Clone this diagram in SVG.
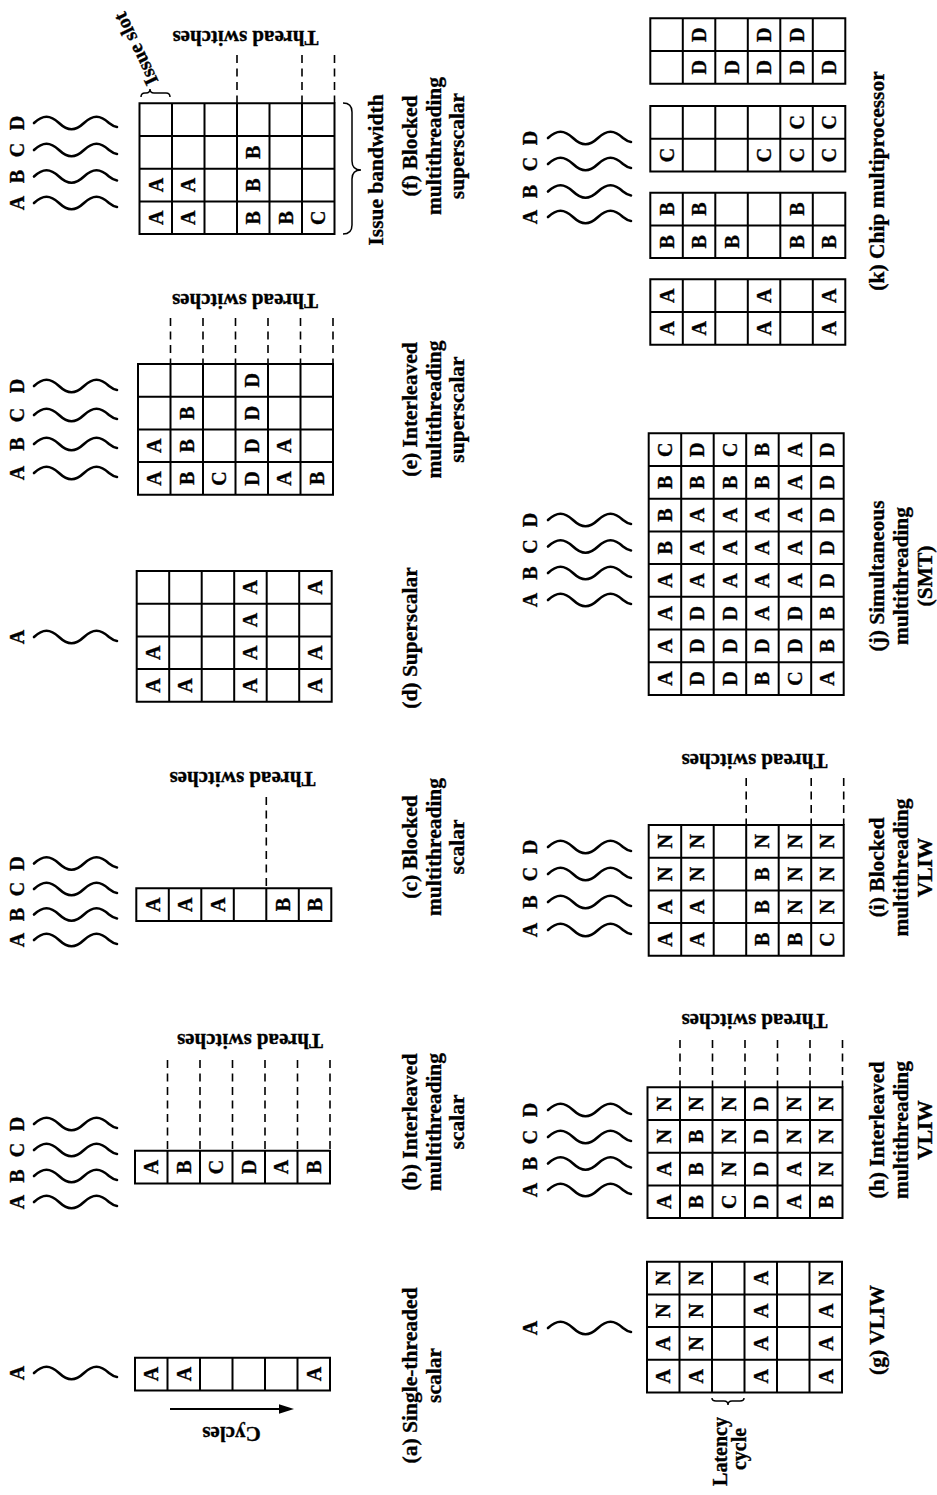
<svg xmlns="http://www.w3.org/2000/svg" xmlns:xlink="http://www.w3.org/1999/xlink" width="937" height="1495" viewBox="0 0 937 1495">
<style>
.t{font-family:"Liberation Serif","Times New Roman",serif;font-weight:bold;fill:#000;stroke:#000;stroke-width:0.35}
.c{font-size:20px;text-anchor:middle;dominant-baseline:central}
.cap{font-size:21.5px;text-anchor:middle}
.lbl{font-size:21px;text-anchor:middle}
.dash{stroke:#000;stroke-width:1.6;stroke-dasharray:8 5.5;fill:none}
.br{fill:none;stroke:#000;stroke-width:1.5}
</style>
<defs>
<path id="w" d="M0 0C9 -8.4 16 -8.4 25 0C34 8.4 41 8.4 50 0C59 -8.4 66 -8.4 75 0C78 2.4 80.5 3.6 83 4" fill="none" stroke="#000" stroke-width="2.6" stroke-linecap="round"/>
<path id="g1" d="M0 0H195V32.7H0Z M32.5 0V32.7 M65 0V32.7 M97.5 0V32.7 M130 0V32.7 M162.5 0V32.7" fill="#fff" stroke="#000" stroke-width="2"/>
<path id="g2" d="M0 0H195V65.4H0Z M32.5 0V65.4 M65 0V65.4 M97.5 0V65.4 M130 0V65.4 M162.5 0V65.4 M0 32.7H195" fill="#fff" stroke="#000" stroke-width="2"/>
<path id="g4" d="M0 0H195V130.8H0Z M32.5 0V130.8 M65 0V130.8 M97.5 0V130.8 M130 0V130.8 M162.5 0V130.8 M0 32.7H195 M0 65.4H195 M0 98.1H195" fill="#fff" stroke="#000" stroke-width="2"/>
<path id="g8" d="M0 0H195V261.6H0Z M32.5 0V261.6 M65 0V261.6 M97.5 0V261.6 M130 0V261.6 M162.5 0V261.6 M0 32.7H195 M0 65.4H195 M0 98.1H195 M0 130.8H195 M0 163.5H195 M0 196.2H195 M0 228.9H195" fill="#fff" stroke="#000" stroke-width="2"/>
</defs>
<rect width="937" height="1495" fill="#fff"/>

<!-- (a) -->
<g id="fig-a">
<text class="t c" x="17" y="1373" transform="rotate(-90 17 1373)">A</text>
<use href="#w" x="34" y="1373"/>
<g transform="translate(135,1357.7)">
<use href="#g1"/>
<text class="t c" x="16.25" y="16.35" transform="rotate(-90 16.25 16.35)">A</text>
<text class="t c" x="48.75" y="16.35" transform="rotate(-90 48.75 16.35)">A</text>
<text class="t c" x="178.75" y="16.35" transform="rotate(-90 178.75 16.35)">A</text>
</g>
<text class="t lbl" transform="translate(231.5,1427) rotate(180)">Cycles</text>
<text class="t cap" transform="translate(416.7,1375.5) rotate(-90)">(a) Single-threaded</text>
<text class="t cap" transform="translate(440.5,1375.5) rotate(-90)">scalar</text>
</g>

<!-- (b) -->
<g id="fig-b">
<text class="t c" x="17" y="1202" transform="rotate(-90 17 1202)">A</text>
<text class="t c" x="17" y="1176" transform="rotate(-90 17 1176)">B</text>
<text class="t c" x="17" y="1150" transform="rotate(-90 17 1150)">C</text>
<text class="t c" x="17" y="1124" transform="rotate(-90 17 1124)">D</text>
<use href="#w" x="34" y="1202"/><use href="#w" x="34" y="1176"/><use href="#w" x="34" y="1150"/><use href="#w" x="34" y="1124"/>
<path class="dash" d="M167.5 1060V1150.7 M200 1060V1150.7 M232.5 1060V1150.7 M265 1060V1150.7 M297.5 1060V1150.7 M330 1060V1150.7"/>
<g transform="translate(135,1150.7)">
<use href="#g1"/>
<text class="t c" x="16.25" y="16.35" transform="rotate(-90 16.25 16.35)">A</text>
<text class="t c" x="48.75" y="16.35" transform="rotate(-90 48.75 16.35)">B</text>
<text class="t c" x="81.25" y="16.35" transform="rotate(-90 81.25 16.35)">C</text>
<text class="t c" x="113.75" y="16.35" transform="rotate(-90 113.75 16.35)">D</text>
<text class="t c" x="146.25" y="16.35" transform="rotate(-90 146.25 16.35)">A</text>
<text class="t c" x="178.75" y="16.35" transform="rotate(-90 178.75 16.35)">B</text>
</g>
<text class="t lbl" transform="translate(250,1034) rotate(180)">Thread switches</text>
<text class="t cap" transform="translate(416.7,1122) rotate(-90)">(b) Interleaved</text>
<text class="t cap" transform="translate(440.5,1122) rotate(-90)">multithreading</text>
<text class="t cap" transform="translate(464.3,1122) rotate(-90)">scalar</text>
</g>

<!-- (c) -->
<g id="fig-c">
<text class="t c" x="17" y="940" transform="rotate(-90 17 940)">A</text>
<text class="t c" x="17" y="914.5" transform="rotate(-90 17 914.5)">B</text>
<text class="t c" x="17" y="889" transform="rotate(-90 17 889)">C</text>
<text class="t c" x="17" y="863.5" transform="rotate(-90 17 863.5)">D</text>
<use href="#w" x="34" y="940"/><use href="#w" x="34" y="914.5"/><use href="#w" x="34" y="889"/><use href="#w" x="34" y="863.5"/>
<path class="dash" d="M266.3 797V888.3"/>
<g transform="translate(136.3,888.3)">
<use href="#g1"/>
<text class="t c" x="16.25" y="16.35" transform="rotate(-90 16.25 16.35)">A</text>
<text class="t c" x="48.75" y="16.35" transform="rotate(-90 48.75 16.35)">A</text>
<text class="t c" x="81.25" y="16.35" transform="rotate(-90 81.25 16.35)">A</text>
<text class="t c" x="146.25" y="16.35" transform="rotate(-90 146.25 16.35)">B</text>
<text class="t c" x="178.75" y="16.35" transform="rotate(-90 178.75 16.35)">B</text>
</g>
<text class="t lbl" transform="translate(242.5,772) rotate(180)">Thread switches</text>
<text class="t cap" transform="translate(416.7,847) rotate(-90)">(c) Blocked</text>
<text class="t cap" transform="translate(440.5,847) rotate(-90)">multithreading</text>
<text class="t cap" transform="translate(464.3,847) rotate(-90)">scalar</text>
</g>

<!-- (d) -->
<g id="fig-d">
<text class="t c" x="17" y="637" transform="rotate(-90 17 637)">A</text>
<use href="#w" x="34" y="637"/>
<g transform="translate(136.7,571)">
<use href="#g4"/>
<text class="t c" x="113.75" y="16.35" transform="rotate(-90 113.75 16.35)">A</text>
<text class="t c" x="178.75" y="16.35" transform="rotate(-90 178.75 16.35)">A</text>
<text class="t c" x="113.75" y="49.05" transform="rotate(-90 113.75 49.05)">A</text>
<text class="t c" x="16.25" y="81.75" transform="rotate(-90 16.25 81.75)">A</text>
<text class="t c" x="113.75" y="81.75" transform="rotate(-90 113.75 81.75)">A</text>
<text class="t c" x="178.75" y="81.75" transform="rotate(-90 178.75 81.75)">A</text>
<text class="t c" x="16.25" y="114.45" transform="rotate(-90 16.25 114.45)">A</text>
<text class="t c" x="48.75" y="114.45" transform="rotate(-90 48.75 114.45)">A</text>
<text class="t c" x="113.75" y="114.45" transform="rotate(-90 113.75 114.45)">A</text>
<text class="t c" x="178.75" y="114.45" transform="rotate(-90 178.75 114.45)">A</text>
</g>
<text class="t cap" transform="translate(416.7,638) rotate(-90)">(d) Superscalar</text>
</g>

<!-- (e) -->
<g id="fig-e">
<text class="t c" x="17" y="473" transform="rotate(-90 17 473)">A</text>
<text class="t c" x="17" y="444" transform="rotate(-90 17 444)">B</text>
<text class="t c" x="17" y="415" transform="rotate(-90 17 415)">C</text>
<text class="t c" x="17" y="386" transform="rotate(-90 17 386)">D</text>
<use href="#w" x="34" y="473"/><use href="#w" x="34" y="444"/><use href="#w" x="34" y="415"/><use href="#w" x="34" y="386"/>
<path class="dash" d="M170.5 318V364 M203 318V364 M235.5 318V364 M268 318V364 M300.5 318V364 M333 318V364"/>
<g transform="translate(138,364)">
<use href="#g4"/>
<text class="t c" x="113.75" y="16.35" transform="rotate(-90 113.75 16.35)">D</text>
<text class="t c" x="48.75" y="49.05" transform="rotate(-90 48.75 49.05)">B</text>
<text class="t c" x="113.75" y="49.05" transform="rotate(-90 113.75 49.05)">D</text>
<text class="t c" x="16.25" y="81.75" transform="rotate(-90 16.25 81.75)">A</text>
<text class="t c" x="48.75" y="81.75" transform="rotate(-90 48.75 81.75)">B</text>
<text class="t c" x="113.75" y="81.75" transform="rotate(-90 113.75 81.75)">D</text>
<text class="t c" x="146.25" y="81.75" transform="rotate(-90 146.25 81.75)">A</text>
<text class="t c" x="16.25" y="114.45" transform="rotate(-90 16.25 114.45)">A</text>
<text class="t c" x="48.75" y="114.45" transform="rotate(-90 48.75 114.45)">B</text>
<text class="t c" x="81.25" y="114.45" transform="rotate(-90 81.25 114.45)">C</text>
<text class="t c" x="113.75" y="114.45" transform="rotate(-90 113.75 114.45)">D</text>
<text class="t c" x="146.25" y="114.45" transform="rotate(-90 146.25 114.45)">A</text>
<text class="t c" x="178.75" y="114.45" transform="rotate(-90 178.75 114.45)">B</text>
</g>
<text class="t lbl" transform="translate(245,294) rotate(180)">Thread switches</text>
<text class="t cap" transform="translate(416.7,409.5) rotate(-90)">(e) Interleaved</text>
<text class="t cap" transform="translate(440.5,409.5) rotate(-90)">multithreading</text>
<text class="t cap" transform="translate(464.3,409.5) rotate(-90)">superscalar</text>
</g>

<!-- (f) -->
<g id="fig-f">
<text class="t c" x="17" y="203" transform="rotate(-90 17 203)">A</text>
<text class="t c" x="17" y="176.5" transform="rotate(-90 17 176.5)">B</text>
<text class="t c" x="17" y="150" transform="rotate(-90 17 150)">C</text>
<text class="t c" x="17" y="123" transform="rotate(-90 17 123)">D</text>
<use href="#w" x="34" y="203"/><use href="#w" x="34" y="176.5"/><use href="#w" x="34" y="150"/><use href="#w" x="34" y="123"/>
<path class="dash" d="M237 55V103.3 M302 55V103.3 M334.5 55V103.3"/>
<g transform="translate(139.5,103.3)">
<use href="#g4"/>
<text class="t c" x="113.75" y="49.05" transform="rotate(-90 113.75 49.05)">B</text>
<text class="t c" x="16.25" y="81.75" transform="rotate(-90 16.25 81.75)">A</text>
<text class="t c" x="48.75" y="81.75" transform="rotate(-90 48.75 81.75)">A</text>
<text class="t c" x="113.75" y="81.75" transform="rotate(-90 113.75 81.75)">B</text>
<text class="t c" x="16.25" y="114.45" transform="rotate(-90 16.25 114.45)">A</text>
<text class="t c" x="48.75" y="114.45" transform="rotate(-90 48.75 114.45)">A</text>
<text class="t c" x="113.75" y="114.45" transform="rotate(-90 113.75 114.45)">B</text>
<text class="t c" x="146.25" y="114.45" transform="rotate(-90 146.25 114.45)">B</text>
<text class="t c" x="178.75" y="114.45" transform="rotate(-90 178.75 114.45)">C</text>
</g>
<text class="t lbl" transform="translate(245.5,31) rotate(180)">Thread switches</text>
<path class="br" d="M141 97Q141 93 145 93L146 93Q150 93 150 89Q150 93 154 93L166 93Q170 93 170 97"/>
<text class="t lbl" style="font-size:20px" transform="translate(141.8,46) rotate(-115.6)">Issue slot</text>
<path class="br" d="M343 103Q352 103 352 112L352 161Q352 170 361 170Q352 170 352 179L352 225Q352 234 343 234"/>
<text class="t cap" transform="translate(383.3,170) rotate(-90)">Issue bandwidth</text>
<text class="t cap" transform="translate(416.7,146) rotate(-90)">(f) Blocked</text>
<text class="t cap" transform="translate(440.5,146) rotate(-90)">multithreading</text>
<text class="t cap" transform="translate(464.3,146) rotate(-90)">superscalar</text>
</g>

<!-- (g) -->
<g id="fig-g">
<text class="t c" x="530" y="1328" transform="rotate(-90 530 1328)">A</text>
<use href="#w" x="548" y="1328"/>
<g transform="translate(647,1261.7)">
<use href="#g4"/>
<text class="t c" x="16.25" y="16.35" transform="rotate(-90 16.25 16.35)">N</text>
<text class="t c" x="48.75" y="16.35" transform="rotate(-90 48.75 16.35)">N</text>
<text class="t c" x="113.75" y="16.35" transform="rotate(-90 113.75 16.35)">A</text>
<text class="t c" x="178.75" y="16.35" transform="rotate(-90 178.75 16.35)">N</text>
<text class="t c" x="16.25" y="49.05" transform="rotate(-90 16.25 49.05)">N</text>
<text class="t c" x="48.75" y="49.05" transform="rotate(-90 48.75 49.05)">N</text>
<text class="t c" x="113.75" y="49.05" transform="rotate(-90 113.75 49.05)">A</text>
<text class="t c" x="178.75" y="49.05" transform="rotate(-90 178.75 49.05)">A</text>
<text class="t c" x="16.25" y="81.75" transform="rotate(-90 16.25 81.75)">A</text>
<text class="t c" x="48.75" y="81.75" transform="rotate(-90 48.75 81.75)">N</text>
<text class="t c" x="113.75" y="81.75" transform="rotate(-90 113.75 81.75)">A</text>
<text class="t c" x="178.75" y="81.75" transform="rotate(-90 178.75 81.75)">A</text>
<text class="t c" x="16.25" y="114.45" transform="rotate(-90 16.25 114.45)">A</text>
<text class="t c" x="48.75" y="114.45" transform="rotate(-90 48.75 114.45)">A</text>
<text class="t c" x="113.75" y="114.45" transform="rotate(-90 113.75 114.45)">A</text>
<text class="t c" x="178.75" y="114.45" transform="rotate(-90 178.75 114.45)">A</text>
</g>
<path class="br" d="M712 1398Q712 1401 716 1401L724 1401Q728 1401 728 1405Q728 1401 732 1401L740 1401Q744 1401 744 1398"/>
<text class="t lbl" style="font-size:20px" transform="translate(727,1451.5) rotate(-90)">Latency</text>
<text class="t lbl" style="font-size:20px" transform="translate(746,1449) rotate(-90)">cycle</text>
<text class="t cap" transform="translate(884,1330) rotate(-90)">(g) VLIW</text>
</g>

<!-- (h) -->
<g id="fig-h">
<text class="t c" x="530" y="1190" transform="rotate(-90 530 1190)">A</text>
<text class="t c" x="530" y="1163.5" transform="rotate(-90 530 1163.5)">B</text>
<text class="t c" x="530" y="1137" transform="rotate(-90 530 1137)">C</text>
<text class="t c" x="530" y="1110" transform="rotate(-90 530 1110)">D</text>
<use href="#w" x="548" y="1190"/><use href="#w" x="548" y="1163.5"/><use href="#w" x="548" y="1137"/><use href="#w" x="548" y="1110"/>
<path class="dash" d="M680 1040V1087.3 M712.5 1040V1087.3 M745 1040V1087.3 M777.5 1040V1087.3 M810 1040V1087.3 M842.5 1040V1087.3"/>
<g transform="translate(647.5,1087.3)">
<use href="#g4"/>
<text class="t c" x="16.25" y="16.35" transform="rotate(-90 16.25 16.35)">N</text>
<text class="t c" x="48.75" y="16.35" transform="rotate(-90 48.75 16.35)">N</text>
<text class="t c" x="81.25" y="16.35" transform="rotate(-90 81.25 16.35)">N</text>
<text class="t c" x="113.75" y="16.35" transform="rotate(-90 113.75 16.35)">D</text>
<text class="t c" x="146.25" y="16.35" transform="rotate(-90 146.25 16.35)">N</text>
<text class="t c" x="178.75" y="16.35" transform="rotate(-90 178.75 16.35)">N</text>
<text class="t c" x="16.25" y="49.05" transform="rotate(-90 16.25 49.05)">N</text>
<text class="t c" x="48.75" y="49.05" transform="rotate(-90 48.75 49.05)">B</text>
<text class="t c" x="81.25" y="49.05" transform="rotate(-90 81.25 49.05)">N</text>
<text class="t c" x="113.75" y="49.05" transform="rotate(-90 113.75 49.05)">D</text>
<text class="t c" x="146.25" y="49.05" transform="rotate(-90 146.25 49.05)">N</text>
<text class="t c" x="178.75" y="49.05" transform="rotate(-90 178.75 49.05)">N</text>
<text class="t c" x="16.25" y="81.75" transform="rotate(-90 16.25 81.75)">A</text>
<text class="t c" x="48.75" y="81.75" transform="rotate(-90 48.75 81.75)">B</text>
<text class="t c" x="81.25" y="81.75" transform="rotate(-90 81.25 81.75)">N</text>
<text class="t c" x="113.75" y="81.75" transform="rotate(-90 113.75 81.75)">D</text>
<text class="t c" x="146.25" y="81.75" transform="rotate(-90 146.25 81.75)">A</text>
<text class="t c" x="178.75" y="81.75" transform="rotate(-90 178.75 81.75)">N</text>
<text class="t c" x="16.25" y="114.45" transform="rotate(-90 16.25 114.45)">A</text>
<text class="t c" x="48.75" y="114.45" transform="rotate(-90 48.75 114.45)">B</text>
<text class="t c" x="81.25" y="114.45" transform="rotate(-90 81.25 114.45)">C</text>
<text class="t c" x="113.75" y="114.45" transform="rotate(-90 113.75 114.45)">D</text>
<text class="t c" x="146.25" y="114.45" transform="rotate(-90 146.25 114.45)">A</text>
<text class="t c" x="178.75" y="114.45" transform="rotate(-90 178.75 114.45)">B</text>
</g>
<text class="t lbl" transform="translate(754.5,1014) rotate(180)">Thread switches</text>
<text class="t cap" transform="translate(884,1130) rotate(-90)">(h) Interleaved</text>
<text class="t cap" transform="translate(908,1130) rotate(-90)">multithreading</text>
<text class="t cap" transform="translate(932,1130) rotate(-90)">VLIW</text>
</g>

<!-- (i) -->
<g id="fig-i">
<text class="t c" x="530" y="930" transform="rotate(-90 530 930)">A</text>
<text class="t c" x="530" y="902" transform="rotate(-90 530 902)">B</text>
<text class="t c" x="530" y="874" transform="rotate(-90 530 874)">C</text>
<text class="t c" x="530" y="847" transform="rotate(-90 530 847)">D</text>
<use href="#w" x="548" y="930"/><use href="#w" x="548" y="902"/><use href="#w" x="548" y="874"/><use href="#w" x="548" y="847"/>
<path class="dash" d="M746.2 778V825 M811.2 778V825 M843.7 778V825"/>
<g transform="translate(648.7,825)">
<use href="#g4"/>
<text class="t c" x="16.25" y="16.35" transform="rotate(-90 16.25 16.35)">N</text>
<text class="t c" x="48.75" y="16.35" transform="rotate(-90 48.75 16.35)">N</text>
<text class="t c" x="113.75" y="16.35" transform="rotate(-90 113.75 16.35)">N</text>
<text class="t c" x="146.25" y="16.35" transform="rotate(-90 146.25 16.35)">N</text>
<text class="t c" x="178.75" y="16.35" transform="rotate(-90 178.75 16.35)">N</text>
<text class="t c" x="16.25" y="49.05" transform="rotate(-90 16.25 49.05)">N</text>
<text class="t c" x="48.75" y="49.05" transform="rotate(-90 48.75 49.05)">N</text>
<text class="t c" x="113.75" y="49.05" transform="rotate(-90 113.75 49.05)">B</text>
<text class="t c" x="146.25" y="49.05" transform="rotate(-90 146.25 49.05)">N</text>
<text class="t c" x="178.75" y="49.05" transform="rotate(-90 178.75 49.05)">N</text>
<text class="t c" x="16.25" y="81.75" transform="rotate(-90 16.25 81.75)">A</text>
<text class="t c" x="48.75" y="81.75" transform="rotate(-90 48.75 81.75)">A</text>
<text class="t c" x="113.75" y="81.75" transform="rotate(-90 113.75 81.75)">B</text>
<text class="t c" x="146.25" y="81.75" transform="rotate(-90 146.25 81.75)">N</text>
<text class="t c" x="178.75" y="81.75" transform="rotate(-90 178.75 81.75)">N</text>
<text class="t c" x="16.25" y="114.45" transform="rotate(-90 16.25 114.45)">A</text>
<text class="t c" x="48.75" y="114.45" transform="rotate(-90 48.75 114.45)">A</text>
<text class="t c" x="113.75" y="114.45" transform="rotate(-90 113.75 114.45)">B</text>
<text class="t c" x="146.25" y="114.45" transform="rotate(-90 146.25 114.45)">B</text>
<text class="t c" x="178.75" y="114.45" transform="rotate(-90 178.75 114.45)">C</text>
</g>
<text class="t lbl" transform="translate(754.5,754) rotate(180)">Thread switches</text>
<text class="t cap" transform="translate(884,867.5) rotate(-90)">(i) Blocked</text>
<text class="t cap" transform="translate(908,867.5) rotate(-90)">multithreading</text>
<text class="t cap" transform="translate(932,867.5) rotate(-90)">VLIW</text>
</g>

<!-- (j) -->
<g id="fig-j">
<text class="t c" x="530" y="600" transform="rotate(-90 530 600)">A</text>
<text class="t c" x="530" y="573" transform="rotate(-90 530 573)">B</text>
<text class="t c" x="530" y="546.5" transform="rotate(-90 530 546.5)">C</text>
<text class="t c" x="530" y="520" transform="rotate(-90 530 520)">D</text>
<use href="#w" x="548" y="600"/><use href="#w" x="548" y="573"/><use href="#w" x="548" y="546.5"/><use href="#w" x="548" y="520"/>
<g transform="translate(648.7,433.3)">
<use href="#g8"/>
<text class="t c" x="16.25" y="16.35" transform="rotate(-90 16.25 16.35)">C</text>
<text class="t c" x="48.75" y="16.35" transform="rotate(-90 48.75 16.35)">D</text>
<text class="t c" x="81.25" y="16.35" transform="rotate(-90 81.25 16.35)">C</text>
<text class="t c" x="113.75" y="16.35" transform="rotate(-90 113.75 16.35)">B</text>
<text class="t c" x="146.25" y="16.35" transform="rotate(-90 146.25 16.35)">A</text>
<text class="t c" x="178.75" y="16.35" transform="rotate(-90 178.75 16.35)">D</text>
<text class="t c" x="16.25" y="49.05" transform="rotate(-90 16.25 49.05)">B</text>
<text class="t c" x="48.75" y="49.05" transform="rotate(-90 48.75 49.05)">B</text>
<text class="t c" x="81.25" y="49.05" transform="rotate(-90 81.25 49.05)">B</text>
<text class="t c" x="113.75" y="49.05" transform="rotate(-90 113.75 49.05)">B</text>
<text class="t c" x="146.25" y="49.05" transform="rotate(-90 146.25 49.05)">A</text>
<text class="t c" x="178.75" y="49.05" transform="rotate(-90 178.75 49.05)">D</text>
<text class="t c" x="16.25" y="81.75" transform="rotate(-90 16.25 81.75)">B</text>
<text class="t c" x="48.75" y="81.75" transform="rotate(-90 48.75 81.75)">A</text>
<text class="t c" x="81.25" y="81.75" transform="rotate(-90 81.25 81.75)">A</text>
<text class="t c" x="113.75" y="81.75" transform="rotate(-90 113.75 81.75)">A</text>
<text class="t c" x="146.25" y="81.75" transform="rotate(-90 146.25 81.75)">A</text>
<text class="t c" x="178.75" y="81.75" transform="rotate(-90 178.75 81.75)">D</text>
<text class="t c" x="16.25" y="114.45" transform="rotate(-90 16.25 114.45)">B</text>
<text class="t c" x="48.75" y="114.45" transform="rotate(-90 48.75 114.45)">A</text>
<text class="t c" x="81.25" y="114.45" transform="rotate(-90 81.25 114.45)">A</text>
<text class="t c" x="113.75" y="114.45" transform="rotate(-90 113.75 114.45)">A</text>
<text class="t c" x="146.25" y="114.45" transform="rotate(-90 146.25 114.45)">A</text>
<text class="t c" x="178.75" y="114.45" transform="rotate(-90 178.75 114.45)">D</text>
<text class="t c" x="16.25" y="147.15" transform="rotate(-90 16.25 147.15)">A</text>
<text class="t c" x="48.75" y="147.15" transform="rotate(-90 48.75 147.15)">A</text>
<text class="t c" x="81.25" y="147.15" transform="rotate(-90 81.25 147.15)">A</text>
<text class="t c" x="113.75" y="147.15" transform="rotate(-90 113.75 147.15)">A</text>
<text class="t c" x="146.25" y="147.15" transform="rotate(-90 146.25 147.15)">A</text>
<text class="t c" x="178.75" y="147.15" transform="rotate(-90 178.75 147.15)">D</text>
<text class="t c" x="16.25" y="179.85" transform="rotate(-90 16.25 179.85)">A</text>
<text class="t c" x="48.75" y="179.85" transform="rotate(-90 48.75 179.85)">D</text>
<text class="t c" x="81.25" y="179.85" transform="rotate(-90 81.25 179.85)">D</text>
<text class="t c" x="113.75" y="179.85" transform="rotate(-90 113.75 179.85)">A</text>
<text class="t c" x="146.25" y="179.85" transform="rotate(-90 146.25 179.85)">D</text>
<text class="t c" x="178.75" y="179.85" transform="rotate(-90 178.75 179.85)">B</text>
<text class="t c" x="16.25" y="212.55" transform="rotate(-90 16.25 212.55)">A</text>
<text class="t c" x="48.75" y="212.55" transform="rotate(-90 48.75 212.55)">D</text>
<text class="t c" x="81.25" y="212.55" transform="rotate(-90 81.25 212.55)">D</text>
<text class="t c" x="113.75" y="212.55" transform="rotate(-90 113.75 212.55)">D</text>
<text class="t c" x="146.25" y="212.55" transform="rotate(-90 146.25 212.55)">D</text>
<text class="t c" x="178.75" y="212.55" transform="rotate(-90 178.75 212.55)">B</text>
<text class="t c" x="16.25" y="245.25" transform="rotate(-90 16.25 245.25)">A</text>
<text class="t c" x="48.75" y="245.25" transform="rotate(-90 48.75 245.25)">D</text>
<text class="t c" x="81.25" y="245.25" transform="rotate(-90 81.25 245.25)">D</text>
<text class="t c" x="113.75" y="245.25" transform="rotate(-90 113.75 245.25)">B</text>
<text class="t c" x="146.25" y="245.25" transform="rotate(-90 146.25 245.25)">C</text>
<text class="t c" x="178.75" y="245.25" transform="rotate(-90 178.75 245.25)">A</text>
</g>
<text class="t cap" transform="translate(884,576) rotate(-90)">(j) Simultaneous</text>
<text class="t cap" transform="translate(908,576) rotate(-90)">multithreading</text>
<text class="t cap" transform="translate(932,576) rotate(-90)">(SMT)</text>
</g>

<!-- (k) -->
<g id="fig-k">
<text class="t c" x="530" y="217" transform="rotate(-90 530 217)">A</text>
<text class="t c" x="530" y="191.5" transform="rotate(-90 530 191.5)">B</text>
<text class="t c" x="530" y="164" transform="rotate(-90 530 164)">C</text>
<text class="t c" x="530" y="138" transform="rotate(-90 530 138)">D</text>
<use href="#w" x="548" y="217"/><use href="#w" x="548" y="191.5"/><use href="#w" x="548" y="164"/><use href="#w" x="548" y="138"/>
<g id="k-a" transform="translate(650.3,279.3)">
<use href="#g2"/>
<text class="t c" x="16.25" y="16.35" transform="rotate(-90 16.25 16.35)">A</text>
<text class="t c" x="113.75" y="16.35" transform="rotate(-90 113.75 16.35)">A</text>
<text class="t c" x="178.75" y="16.35" transform="rotate(-90 178.75 16.35)">A</text>
<text class="t c" x="16.25" y="49.05" transform="rotate(-90 16.25 49.05)">A</text>
<text class="t c" x="48.75" y="49.05" transform="rotate(-90 48.75 49.05)">A</text>
<text class="t c" x="113.75" y="49.05" transform="rotate(-90 113.75 49.05)">A</text>
<text class="t c" x="178.75" y="49.05" transform="rotate(-90 178.75 49.05)">A</text>
</g>
<g id="k-b" transform="translate(650.3,192.7)">
<use href="#g2"/>
<text class="t c" x="16.25" y="16.35" transform="rotate(-90 16.25 16.35)">B</text>
<text class="t c" x="48.75" y="16.35" transform="rotate(-90 48.75 16.35)">B</text>
<text class="t c" x="146.25" y="16.35" transform="rotate(-90 146.25 16.35)">B</text>
<text class="t c" x="16.25" y="49.05" transform="rotate(-90 16.25 49.05)">B</text>
<text class="t c" x="48.75" y="49.05" transform="rotate(-90 48.75 49.05)">B</text>
<text class="t c" x="81.25" y="49.05" transform="rotate(-90 81.25 49.05)">B</text>
<text class="t c" x="146.25" y="49.05" transform="rotate(-90 146.25 49.05)">B</text>
<text class="t c" x="178.75" y="49.05" transform="rotate(-90 178.75 49.05)">B</text>
</g>
<g id="k-c" transform="translate(650.3,106)">
<use href="#g2"/>
<text class="t c" x="146.25" y="16.35" transform="rotate(-90 146.25 16.35)">C</text>
<text class="t c" x="178.75" y="16.35" transform="rotate(-90 178.75 16.35)">C</text>
<text class="t c" x="16.25" y="49.05" transform="rotate(-90 16.25 49.05)">C</text>
<text class="t c" x="113.75" y="49.05" transform="rotate(-90 113.75 49.05)">C</text>
<text class="t c" x="146.25" y="49.05" transform="rotate(-90 146.25 49.05)">C</text>
<text class="t c" x="178.75" y="49.05" transform="rotate(-90 178.75 49.05)">C</text>
</g>
<g id="k-d" transform="translate(650.3,18.3)">
<use href="#g2"/>
<text class="t c" x="48.75" y="16.35" transform="rotate(-90 48.75 16.35)">D</text>
<text class="t c" x="113.75" y="16.35" transform="rotate(-90 113.75 16.35)">D</text>
<text class="t c" x="146.25" y="16.35" transform="rotate(-90 146.25 16.35)">D</text>
<text class="t c" x="48.75" y="49.05" transform="rotate(-90 48.75 49.05)">D</text>
<text class="t c" x="81.25" y="49.05" transform="rotate(-90 81.25 49.05)">D</text>
<text class="t c" x="113.75" y="49.05" transform="rotate(-90 113.75 49.05)">D</text>
<text class="t c" x="146.25" y="49.05" transform="rotate(-90 146.25 49.05)">D</text>
<text class="t c" x="178.75" y="49.05" transform="rotate(-90 178.75 49.05)">D</text>
</g>
<text class="t cap" transform="translate(884,181) rotate(-90)">(k) Chip multiprocessor</text>
</g>

<!-- connectors -->
<g id="connectors">
<path d="M170 1409H281" stroke="#000" stroke-width="2" fill="none"/>
<polygon points="294,1409 279,1404.3 279,1413.7" fill="#000"/>
</g>
</svg>
